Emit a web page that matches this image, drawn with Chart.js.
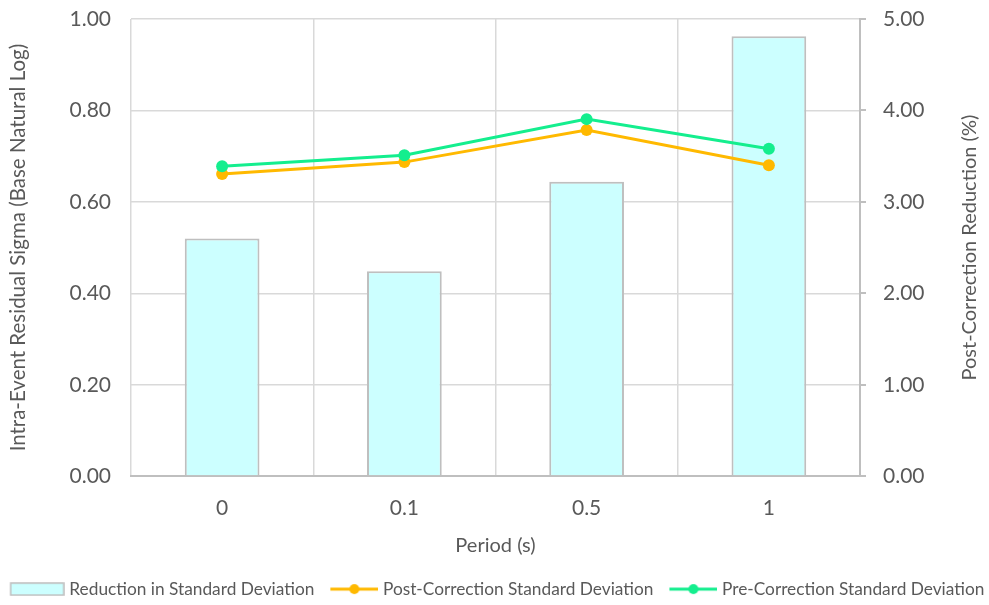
<!DOCTYPE html>
<html><head><meta charset="utf-8">
<script src="https://cdn.jsdelivr.net/npm/chart.js@4.4.1/dist/chart.umd.min.js"></script>
<style>html,body{margin:0;padding:0;background:#fff}#wrap{width:989px;height:605px}</style>
</head><body><div id="wrap"><canvas id="c"></canvas></div>
<script>
const categories = ['0', '0.1', '0.5', '1'];
const reductionPct = [2.60, 2.24, 3.22, 4.81];
const postSigma = [0.661, 0.687, 0.757, 0.680];
const preSigma = [0.678, 0.702, 0.781, 0.716];
const leftTicks = [0, 0.2, 0.4, 0.6, 0.8, 1.0];
const rightTicks = [0, 1, 2, 3, 4, 5];

const FONT = 'Lato';
const TXT = '#595959';
const GRID = '#d9d9d9';
const AX = '#bfbfbf';
const ORANGE = '#FFB900';
const GREEN = '#14EE8E';
const LEG_W = 56;

function legendImg(kind, color) {
  const c = document.createElement('canvas');
  const W = LEG_W + 8;
  c.width = W; c.height = 14;
  const x = c.getContext('2d');
  if (kind === 'bar') {
    x.fillStyle = '#CCFFFF'; x.fillRect(W - 54, 1, 53, 12);
    x.strokeStyle = AX; x.lineWidth = 1.5; x.strokeRect(W - 54, 1, 53, 12);
  } else {
    x.strokeStyle = color; x.lineWidth = 3;
    x.beginPath(); x.moveTo(W - 48, 7); x.lineTo(W, 7); x.stroke();
    x.fillStyle = color; x.beginPath(); x.arc(W - 24, 7, 5, 0, Math.PI * 2); x.fill();
  }
  return c;
}
const imgs = [legendImg('bar'), legendImg('line', ORANGE), legendImg('line', GREEN)];

const rightTitle = {
  id: 'rightTitle',
  afterDraw(chart) {
    const ctx = chart.ctx, a = chart.chartArea;
    ctx.save();
    ctx.translate(970, (a.top + a.bottom) / 2);
    ctx.rotate(-Math.PI / 2);
    ctx.font = '20px ' + FONT;
    ctx.fillStyle = TXT;
    ctx.textAlign = 'center';
    ctx.textBaseline = 'middle';
    ctx.fillText('Post-Correction Reduction (%)', 0, 0);
    ctx.restore();
  }
};

new Chart(document.getElementById('c'), {
  type: 'bar',
  data: {
    labels: categories,
    datasets: [
      { type: 'bar', label: 'Reduction in Standard Deviation', data: reductionPct, yAxisID: 'y2',
        backgroundColor: '#CCFFFF', borderColor: AX, borderWidth: 2, order: 2,
        categoryPercentage: 1.0, barPercentage: 0.41 },
      { type: 'line', label: 'Post-Correction Standard Deviation', data: postSigma, yAxisID: 'y',
        borderColor: ORANGE, backgroundColor: ORANGE, borderWidth: 3, pointRadius: 6,
        pointHoverRadius: 6, pointBorderWidth: 0, order: 1, tension: 0 },
      { type: 'line', label: 'Pre-Correction Standard Deviation', data: preSigma, yAxisID: 'y',
        borderColor: GREEN, backgroundColor: GREEN, borderWidth: 3, pointRadius: 6,
        pointHoverRadius: 6, pointBorderWidth: 0, order: 0, tension: 0 }
    ]
  },
  options: {
    responsive: true, maintainAspectRatio: false, animation: false,
    layout: { padding: { top: 0, left: -12, right: -12, bottom: -2.75 } },
    plugins: {
      tooltip: { enabled: false },
      legend: {
        position: 'bottom',
        labels: {
          usePointStyle: true, pointStyleWidth: LEG_W, boxHeight: 14,
          font: { family: FONT, size: 17.3 }, color: TXT, padding: 4,
          sort: (a, b) => a.datasetIndex - b.datasetIndex,
          generateLabels(chart) {
            return chart.data.datasets.map((d, i) => ({
              text: d.label, pointStyle: imgs[i], datasetIndex: i, hidden: false,
              fillStyle: 'transparent', strokeStyle: 'transparent', lineWidth: 0, fontColor: TXT
            }));
          }
        }
      }
    },
    scales: {
      x: {
        grid: { offset: true, color: GRID, lineWidth: 1.5, drawTicks: false },
        border: { color: AX, width: 2 },
        ticks: { font: { family: FONT, size: 21 }, color: TXT, padding: 19 },
        title: { display: true, text: 'Period (s)', font: { family: FONT, size: 20 }, color: TXT, padding: { top: 0, bottom: 19.25 } },
        afterFit(s) { s.height = 100.25; }
      },
      y: {
        position: 'left', min: 0, max: 1.0,
        afterBuildTicks(s) { s.ticks = leftTicks.map(v => ({ value: v })); },
        grid: { color: GRID, lineWidth: 1.5, drawTicks: false },
        border: { display: false },
        ticks: { font: { family: FONT, size: 21 }, color: TXT, padding: 20, callback: v => v.toFixed(2) },
        title: { display: true, text: 'Intra-Event Residual Sigma (Base Natural Log)', font: { family: FONT, size: 20.5 }, color: TXT, padding: { top: 18, bottom: 0 } },
        afterFit(s) { s.width = 143; s.paddingTop = 19; s.paddingBottom = 0; }
      },
      y2: {
        position: 'right', min: 0, max: 5,
        afterBuildTicks(s) { s.ticks = rightTicks.map(v => ({ value: v })); },
        grid: { drawOnChartArea: false, drawTicks: true, tickLength: 6, color: AX, lineWidth: 2 },
        border: { color: AX, width: 2 },
        ticks: { font: { family: FONT, size: 21 }, color: TXT, padding: 17, callback: v => v.toFixed(2) },
        afterFit(s) { s.width = 141; s.paddingTop = 19; s.paddingBottom = 0; }
      }
    }
  },
  plugins: [rightTitle]
});
</script></body></html>
